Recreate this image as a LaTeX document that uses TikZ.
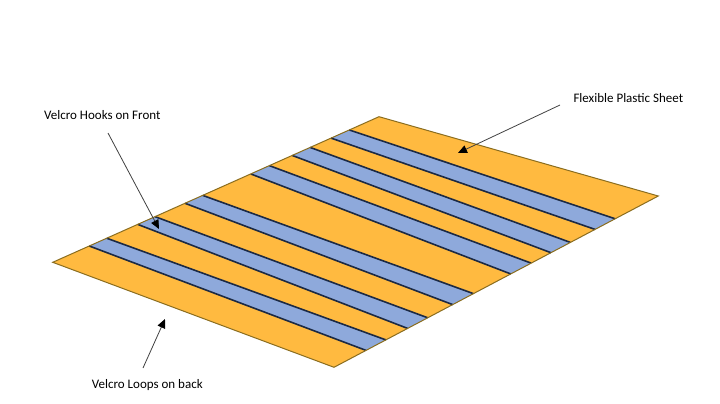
\documentclass[tikz,border=0pt]{standalone}
\usepackage{fontspec}
\setmainfont{Carlito}
\usetikzlibrary{calc,arrows.meta}
\definecolor{sheetfill}{HTML}{FFBA40}
\definecolor{sheetline}{HTML}{8A6D1F}
\definecolor{stripefill}{HTML}{8EA9DB}
\definecolor{stripeline}{HTML}{1C2A44}
\definecolor{arrline}{HTML}{404040}
\tikzset{
  lbl/.style={font=\fontsize{13}{15}\selectfont, inner sep=0pt, anchor=base west, text=black},
  callout/.style={draw=arrline, line width=0.8pt, -{Triangle[length=9pt,width=8pt,color=black,fill=black]}},
  stripebody/.style={fill=stripefill},
  stripeedge/.style={draw=stripeline, line width=1.6pt},
  sheet/.style={fill=sheetfill},
  sheetedge/.style={draw=sheetline, line width=1pt, line join=miter}
}
\begin{document}
\begin{tikzpicture}[x=1pt,y=-1pt]
\useasboundingbox (0,0) rectangle (720,404);
\coordinate (L) at (52.7,262.3);
\coordinate (T) at (379,116.7);
\coordinate (R) at (658.3,196);
\coordinate (B) at (334,367.3);
\fill[sheet] (L) -- (T) -- (R) -- (B) -- cycle;
\foreach \i/\a/\b/\c/\d in {1/0.112/0.1655/0.0987/0.160,
                             2/0.2605/0.3136/0.227/0.289,
                             3/0.4054/0.4597/0.366/0.430,
                             4/0.607/0.664/0.545/0.608,
                             5/0.734/0.789/0.669/0.729,
                             6/0.853/0.909/0.805/0.867}{
  \coordinate (s\i a) at ($(L)!\a!(T)$);
  \coordinate (s\i b) at ($(L)!\b!(T)$);
  \coordinate (s\i c) at ($(B)!\c!(R)$);
  \coordinate (s\i d) at ($(B)!\d!(R)$);
  \fill[stripebody] (s\i a) -- (s\i b) -- (s\i d) -- (s\i c) -- cycle;
  \draw[stripeedge] (s\i a) -- (s\i c);
  \draw[stripeedge] (s\i b) -- (s\i d);
}
\draw[sheetedge] (L) -- (T) -- (R) -- (B) -- cycle;

\node[lbl] (hooks) at (44,119) {Velcro Hooks on Front};
\node[lbl] (plastic) at (573.3,102.7) {Flexible Plastic Sheet};
\node[lbl] (loops) at (91.7,388) {Velcro Loops on back};

\coordinate (hooksfrom) at (108,133);
\coordinate (hooksto) at (159,229);
\coordinate (plasticfrom) at (560,105);
\coordinate (plasticto) at (458,153);
\coordinate (loopsfrom) at (143,368);
\coordinate (loopsto) at (165,319);
\draw[callout] (hooksfrom) -- (hooksto);
\draw[callout] (plasticfrom) -- (plasticto);
\draw[callout] (loopsfrom) -- (loopsto);
\end{tikzpicture}
\end{document}
